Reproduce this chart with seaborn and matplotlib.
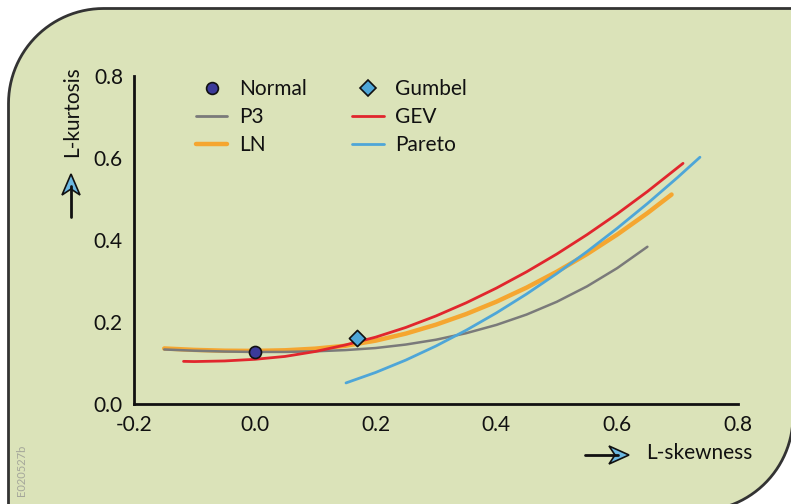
import numpy as np
import matplotlib
matplotlib.use('Agg')
import matplotlib.pyplot as plt
import seaborn as sns
from matplotlib.path import Path
from matplotlib.patches import PathPatch, Polygon
from matplotlib.lines import Line2D
from matplotlib.transforms import Affine2D

# L-moment ratio curves
p3_skew = [-0.15, -0.10, -0.05, 0.0, 0.05, 0.10, 0.15, 0.20, 0.25, 0.30, 0.35, 0.40,
           0.45, 0.50, 0.55, 0.60, 0.65]
p3_kurt = [0.1330, 0.1300, 0.1280, 0.1270, 0.1270, 0.1285, 0.1315, 0.1365, 0.1450, 0.1568,
           0.1727, 0.1929, 0.2182, 0.2493, 0.2869, 0.3314, 0.3835]

ln_skew = [-0.15, -0.10, -0.05, 0.0, 0.05, 0.10, 0.15, 0.20, 0.25, 0.30, 0.35, 0.40,
           0.45, 0.50, 0.55, 0.60, 0.65, 0.69]
ln_kurt = [0.1355, 0.1320, 0.1300, 0.1295, 0.1310, 0.1350, 0.1420, 0.1545, 0.1717, 0.1935,
           0.2194, 0.2495, 0.2839, 0.3226, 0.3657, 0.4133, 0.4656, 0.5109]

gev_skew = [-0.118, -0.10, -0.05, 0.0, 0.05, 0.10, 0.15, 0.20, 0.25, 0.30, 0.35, 0.40,
            0.45, 0.50, 0.55, 0.60, 0.65, 0.709]
gev_kurt = [0.1040, 0.1035, 0.1050, 0.1090, 0.1160, 0.1280, 0.1440, 0.1630, 0.1867, 0.2148,
            0.2468, 0.2827, 0.3224, 0.3658, 0.4130, 0.4638, 0.5182, 0.5870]

pareto_skew = [0.151, 0.20, 0.25, 0.30, 0.35, 0.40, 0.45, 0.50, 0.55, 0.60, 0.65, 0.70, 0.737]
pareto_kurt = [0.0514, 0.0769, 0.1071, 0.1415, 0.1799, 0.2222, 0.2683, 0.3182, 0.3716,
               0.4286, 0.4889, 0.5526, 0.6019]

normal_pt = (0.0, 0.128)
gumbel_pt = (0.170, 0.162)

x_ticks = [-0.2, 0.0, 0.2, 0.4, 0.6, 0.8]
y_ticks = [0.0, 0.2, 0.4, 0.6, 0.8]

bg = '#dbe3b9'
c_p3 = '#7a7a7a'
c_ln = '#f5a630'
c_gev = '#e1262d'
c_par = '#4ea6d8'
c_norm = '#3b3a99'
c_head = '#6cb9e2'

sns.set_theme(style='white')
plt.rcParams['font.family'] = ['Lato', 'DejaVu Sans']
plt.rcParams['axes.unicode_minus'] = False

W, H = 791, 504
fig = plt.figure(figsize=(W / 100, H / 100), dpi=100)
fig.patch.set_facecolor('white')
px = Affine2D().scale(1.0 / W, -1.0 / H).translate(0, 1) + fig.transFigure


def arc(cx, cy, r, a0, a1, n=30):
    t = np.radians(np.linspace(a0, a1, n))
    return [(cx + r * np.cos(a), cy - r * np.sin(a)) for a in t]


# rounded panel behind everything (top-left and bottom-right corners rounded)
r = 95
pts = [(8.5, 560)]
pts += arc(8.5 + r, 8.5 + r, r, 180, 90)
pts += [(793, 8.5)]
pts += arc(698, 416, r, 0, -90)
pts += [(-10, 511), (-10, 560)]
panel = PathPatch(Path(pts), transform=px, fc=bg, ec='#333333', lw=2, zorder=-5)
fig.patches.append(panel)

ax = fig.add_axes([134 / W, 1 - 404 / H, 604 / W, 328 / H])
ax.set_facecolor('none')
ax.set_zorder(2)

sns.lineplot(x=p3_skew, y=p3_kurt, color=c_p3, lw=1.8, sort=False, ax=ax, zorder=3)
sns.lineplot(x=ln_skew, y=ln_kurt, color=c_ln, lw=3.2, sort=False, ax=ax, zorder=2)
sns.lineplot(x=gev_skew, y=gev_kurt, color=c_gev, lw=2.0, sort=False, ax=ax, zorder=4)
sns.lineplot(x=pareto_skew, y=pareto_kurt, color=c_par, lw=2.0, sort=False, ax=ax, zorder=4)
sns.scatterplot(x=[normal_pt[0]], y=[normal_pt[1]], marker='o', s=75, color=c_norm,
                edgecolor='#111111', linewidth=1.2, ax=ax, zorder=6)
sns.scatterplot(x=[gumbel_pt[0]], y=[gumbel_pt[1]], marker='D', s=68, color=c_par,
                edgecolor='#111111', linewidth=1.2, ax=ax, zorder=6)

ax.set_xlim(-0.2, 0.8)
ax.set_ylim(0.0, 0.8)
ax.set_xticks(x_ticks)
ax.set_yticks(y_ticks)
ax.set_xticklabels(['%.1f' % v for v in x_ticks])
ax.set_yticklabels(['%.1f' % v for v in y_ticks])
for s in ['top', 'right']:
    ax.spines[s].set_visible(False)
for s in ['left', 'bottom']:
    ax.spines[s].set_color('#111111')
    ax.spines[s].set_linewidth(2.0)
ax.tick_params(direction='in', length=5, width=2.0, color='#111111', labelsize=15,
               labelcolor='#111111', pad=8)
ax.set_xlabel('')
ax.set_ylabel('')

handles = [
    Line2D([], [], ls='none', marker='o', ms=8.5, mfc=c_norm, mec='#111111', mew=1.2),
    Line2D([], [], color=c_p3, lw=2.0),
    Line2D([], [], color=c_ln, lw=3.2),
    Line2D([], [], ls='none', marker='D', ms=8, mfc=c_par, mec='#111111', mew=1.2),
    Line2D([], [], color=c_gev, lw=2.0),
    Line2D([], [], color=c_par, lw=2.0),
]
labels = ['Normal', 'P3', 'LN', 'Gumbel', 'GEV', 'Pareto']
leg = fig.legend(handles, labels, ncol=2, loc='upper left', frameon=False,
                 bbox_to_anchor=(196 / W, 1 - 79 / H), borderaxespad=0, borderpad=0,
                 fontsize=15, handlelength=1.5, handletextpad=0.55, columnspacing=2.2,
                 labelspacing=0.38)
for t in leg.get_texts():
    t.set_color('#111111')

# axis captions with little arrows
fig.text(72 / W, 1 - 112 / H, 'L-kurtosis', rotation=90, ha='center', va='center',
         fontsize=15, color='#111111')
fig.text(646 / W, 1 - 453 / H, 'L-skewness', ha='left', va='center',
         fontsize=15, color='#111111')
fig.text(21 / W, 1 - 470 / H, 'E020527b', rotation=90, ha='center', va='center',
         fontsize=8, color='#a4a69a')

fig.lines.append(Line2D([71, 71], [217, 186], transform=px, color='#111111', lw=2))
fig.patches.append(Polygon([(71, 174), (80, 195), (71, 189), (62, 195)], closed=True,
                           transform=px, fc=c_head, ec='#111111', lw=1.2))
fig.lines.append(Line2D([585, 618], [455, 455], transform=px, color='#111111', lw=2))
fig.patches.append(Polygon([(629, 455), (609, 446), (615, 455), (609, 464)], closed=True,
                           transform=px, fc=c_head, ec='#111111', lw=1.2))

fig.savefig('out.png', dpi=100, facecolor=fig.get_facecolor())
